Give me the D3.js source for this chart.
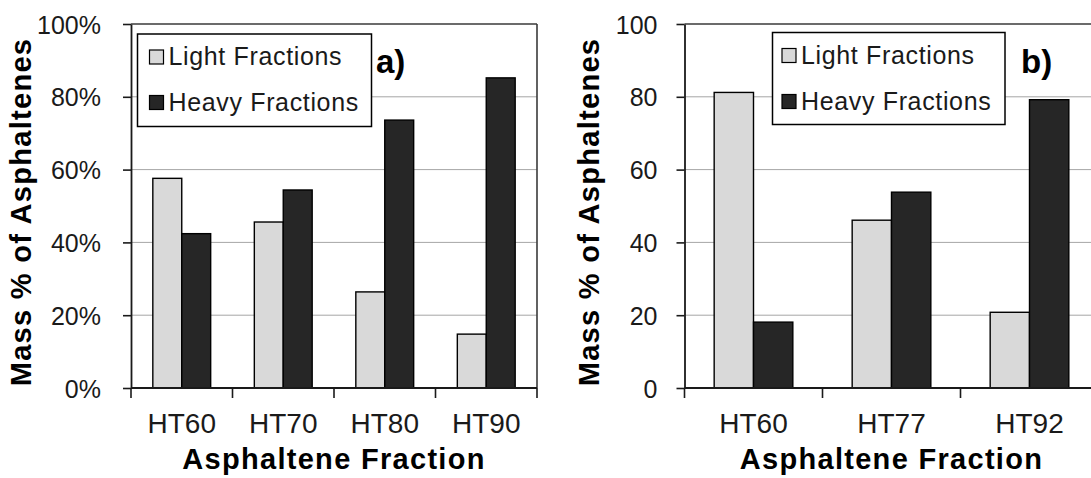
<!DOCTYPE html>
<html>
<head>
<meta charset="utf-8">
<script src="https://cdn.jsdelivr.net/npm/d3@7/dist/d3.min.js"></script>
<style>
  html, body { margin: 0; padding: 0; background: #fff; }
  svg { display: block; font-family: Arial, "Liberation Sans", sans-serif; }
</style>
</head>
<body>
<svg id="chart" width="1091" height="478"></svg>
<script>
// Series and categories
const seriesNames = ["Light Fractions", "Heavy Fractions"];
const seriesColors = ["#d9d9d9", "#262626"];

const categoriesA = ["HT60", "HT70", "HT80", "HT90"];
const lightA = [57.6, 45.6, 26.4, 14.8];
const heavyA = [42.4, 54.4, 73.6, 85.2];

const categoriesB = ["HT60", "HT77", "HT92"];
const lightB = [81.2, 46.1, 20.8];
const heavyB = [18.1, 53.8, 79.2];

const yTickValues = [0, 20, 40, 60, 80, 100];
const panelTags = ["a)", "b)"];
const xTitle = "Asphaltene Fraction";
const yTitle = "Mass % of Asphaltenes";

const svg = d3.select("#chart");
svg.append("rect").attr("width", 1091).attr("height", 478).attr("fill", "#fff");

function drawPanel(cfg) {
  const g = svg.append("g");
  const y = d3.scaleLinear().domain([0, 100]).range([cfg.bottom, cfg.top]);
  const x = d3.scaleBand().domain(cfg.categories).range([cfg.left, cfg.right]).padding(0);
  const inner = d3.scaleBand().domain(seriesNames)
    .range([x.bandwidth() * 0.215, x.bandwidth() * 0.785]).padding(0);

  // horizontal gridlines
  g.append("g").selectAll("line")
    .data(yTickValues.filter(v => v > 0 && v < 100))
    .join("line")
    .attr("x1", cfg.left).attr("x2", cfg.gridEnd)
    .attr("y1", d => y(d)).attr("y2", d => y(d))
    .attr("stroke", "#a6a6a6").attr("stroke-width", 1);

  // plot frame (top and right)
  g.append("line")
    .attr("x1", cfg.left).attr("x2", cfg.gridEnd)
    .attr("y1", y(100)).attr("y2", y(100))
    .attr("stroke", "#3a3a3a").attr("stroke-width", 1.6);
  g.append("line")
    .attr("x1", cfg.right).attr("x2", cfg.right)
    .attr("y1", y(100)).attr("y2", y(0))
    .attr("stroke", "#3a3a3a").attr("stroke-width", 1.6);

  // bars
  const rows = cfg.categories.map((c, i) => ({ cat: c, values: [cfg.light[i], cfg.heavy[i]] }));
  const groups = g.append("g").selectAll("g")
    .data(rows).join("g")
    .attr("transform", d => `translate(${x(d.cat)},0)`);
  groups.selectAll("rect")
    .data(d => d.values.map((v, j) => ({ name: seriesNames[j], value: v, color: seriesColors[j] })))
    .join("rect")
    .attr("x", d => inner(d.name))
    .attr("width", inner.bandwidth())
    .attr("y", d => y(d.value))
    .attr("height", d => y(0) - y(d.value))
    .attr("fill", d => d.color)
    .attr("stroke", "#000")
    .attr("stroke-width", 1.4);

  // y axis
  const yAxis = g.append("g")
    .attr("transform", `translate(${cfg.left},0)`)
    .call(d3.axisLeft(y).tickValues(yTickValues).tickSize(8).tickSizeOuter(0)
      .tickPadding(cfg.yPad).tickFormat(cfg.yFormat));
  yAxis.select(".domain").attr("stroke", "#1a1a1a").attr("stroke-width", 1.8);
  yAxis.selectAll(".tick line").attr("stroke", "#1a1a1a").attr("stroke-width", 1.6);
  yAxis.selectAll(".tick text")
    .attr("font-size", 25).attr("fill", "#1a1a1a")
    .attr("font-family", "Arial, 'Liberation Sans', sans-serif")
    .attr("dy", "0.36em");

  // x axis baseline
  g.append("line")
    .attr("x1", cfg.left).attr("x2", cfg.gridEnd)
    .attr("y1", y(0)).attr("y2", y(0))
    .attr("stroke", "#1a1a1a").attr("stroke-width", 1.8);

  // category boundary ticks
  const bounds = cfg.categories.map(c => x(c)).concat([x.range()[1]]);
  g.append("g").selectAll("line")
    .data(bounds).join("line")
    .attr("x1", d => d).attr("x2", d => d)
    .attr("y1", y(0)).attr("y2", y(0) + 10)
    .attr("stroke", "#1a1a1a").attr("stroke-width", 1.6);

  // category labels
  const xAxis = g.append("g")
    .attr("transform", `translate(0,${y(0)})`)
    .call(d3.axisBottom(x).tickSize(0).tickPadding(0));
  xAxis.select(".domain").remove();
  xAxis.selectAll(".tick text")
    .attr("font-size", 28).attr("fill", "#1a1a1a")
    .attr("font-family", "Arial, 'Liberation Sans', sans-serif")
    .attr("dy", 0).attr("y", 45);

  // axis titles
  g.append("text")
    .attr("x", (cfg.left + x.range()[1]) / 2).attr("y", 469)
    .attr("text-anchor", "middle")
    .attr("font-size", 29).attr("font-weight", "bold")
    .attr("letter-spacing", 1.3).attr("fill", "#000")
    .text(xTitle);
  g.append("text")
    .attr("transform", `translate(${cfg.yTitleX},212) rotate(-90)`)
    .attr("text-anchor", "middle")
    .attr("font-size", 29).attr("font-weight", "bold")
    .attr("letter-spacing", 1.3).attr("fill", "#000")
    .text(yTitle);

  // legend
  const L = cfg.legend;
  const lg = g.append("g").attr("transform", `translate(${L.x},${L.y})`);
  lg.append("rect")
    .attr("width", L.w).attr("height", L.h)
    .attr("fill", "#fff").attr("stroke", "#000").attr("stroke-width", 1.5);
  seriesNames.forEach((name, i) => {
    const by = L.firstBaseline + i * L.rowGap;
    lg.append("rect")
      .attr("x", L.swX).attr("y", by - 15)
      .attr("width", 14).attr("height", 14)
      .attr("fill", seriesColors[i]).attr("stroke", "#000").attr("stroke-width", 1.2);
    lg.append("text")
      .attr("x", L.swX + 19).attr("y", by)
      .attr("font-size", 25).attr("letter-spacing", 0.65).attr("fill", "#1a1a1a")
      .text(name);
  });

  // panel tag
  g.append("text")
    .attr("x", cfg.tagX).attr("y", 73)
    .attr("font-size", 33).attr("font-weight", "bold").attr("fill", "#000")
    .text(cfg.tag);
}

drawPanel({
  categories: categoriesA, light: lightA, heavy: heavyA,
  left: 131, right: 537, gridEnd: 537, top: 24, bottom: 388,
  yPad: 22, yFormat: d => d + "%", yTitleX: 31,
  legend: { x: 137.5, y: 34, w: 234, h: 92.5, swX: 12, firstBaseline: 31, rowGap: 45.5 },
  tag: panelTags[0], tagX: 376
});

drawPanel({
  categories: categoriesB, light: lightB, heavy: heavyB,
  left: 684.5, right: 1098.5, gridEnd: 1091, top: 24, bottom: 388,
  yPad: 19, yFormat: d => String(d), yTitleX: 599,
  legend: { x: 772.5, y: 32.5, w: 232.5, h: 92, swX: 9.5, firstBaseline: 31, rowGap: 46 },
  tag: panelTags[1], tagX: 1021
});
</script>
</body>
</html>
